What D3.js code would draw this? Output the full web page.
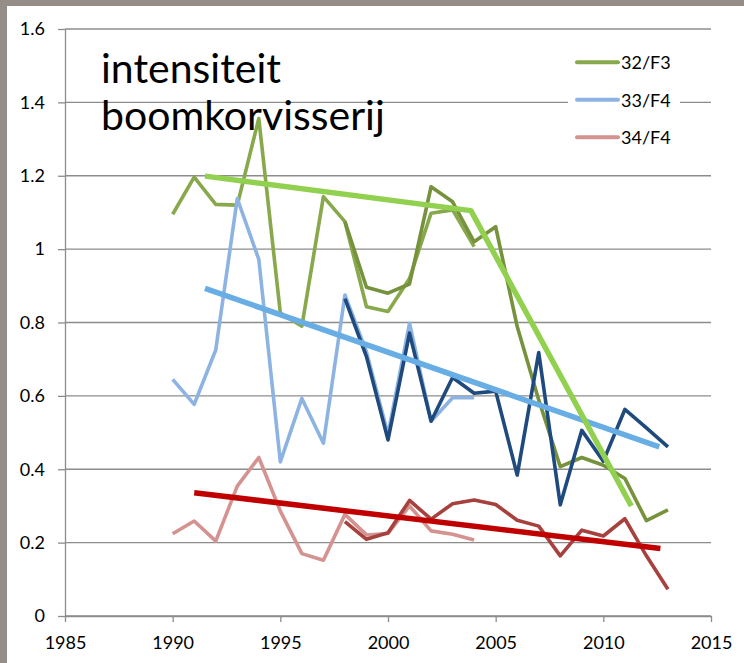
<!DOCTYPE html>
<html>
<head>
<meta charset="utf-8">
<script src="https://cdn.jsdelivr.net/npm/d3@7"></script>
<style>
    body { margin: 0; background: #ffffff; }
    text { font-family: Lato, "Open Sans", sans-serif; fill: #000000; }
</style>
</head>
<body>
<div id="chart-container"></div>
<script>
/*
    intensiteit boomkorvisserij, 1990 - 2013
 */

// data
var years_early = [1990, 1991, 1992, 1993, 1994, 1995, 1996, 1997, 1998, 1999, 2000, 2001, 2002, 2003, 2004];
var years_late = [1998, 1999, 2000, 2001, 2002, 2003, 2004, 2005, 2006, 2007, 2008, 2009, 2010, 2011, 2012, 2013];

var f3_early = [1.095, 1.196, 1.122, 1.120, 1.356, 0.826, 0.790, 1.143, 1.075, 0.843, 0.830, 0.920, 1.098, 1.107, 1.007];
var f4_33_early = [0.645, 0.577, 0.725, 1.138, 0.972, 0.420, 0.593, 0.471, 0.875, 0.720, 0.495, 0.798, 0.531, 0.595, 0.595];
var f4_34_early = [0.224, 0.259, 0.204, 0.354, 0.432, 0.286, 0.170, 0.152, 0.277, 0.221, 0.225, 0.300, 0.232, 0.223, 0.207];

var f3_late = [1.075, 0.896, 0.880, 0.905, 1.170, 1.129, 1.020, 1.061, 0.789, 0.589, 0.407, 0.432, 0.411, 0.375, 0.260, 0.289];
var f4_33_late = [0.865, 0.707, 0.480, 0.771, 0.531, 0.650, 0.607, 0.613, 0.384, 0.718, 0.303, 0.506, 0.422, 0.563, 0.513, 0.461];
var f4_34_late = [0.257, 0.209, 0.227, 0.315, 0.264, 0.306, 0.316, 0.304, 0.261, 0.245, 0.164, 0.234, 0.218, 0.265, 0.164, 0.073];

// trend lines
var trend_f3_x = [1991.5, 2003.85, 2011.3];
var trend_f3_y = [1.199, 1.105, 0.300];
var trend_33_x = [1991.5, 2012.6];
var trend_33_y = [0.893, 0.461];
var trend_34_x = [1991.0, 2012.65];
var trend_34_y = [0.336, 0.184];

var legend_names = ["32/F3", "33/F4", "34/F4"];
var x_ticks = [1985, 1990, 1995, 2000, 2005, 2010, 2015];
var y_ticks = [0, 0.2, 0.4, 0.6, 0.8, 1, 1.2, 1.4, 1.6];

var title_lines = ["intensiteit", "boomkorvisserij"];

var svg_size = {
    'width': 744,
    'height': 663
};

var plot = {
    'left': 65,
    'right': 711,
    'top': 29,
    'bottom': 616
};

var grid_color = "#8c8c8c";

var svg = d3.select("#chart-container")
    .append("svg")
    .attr('width', svg_size.width)
    .attr('height', svg_size.height);

// frame on the left and top
svg.append('rect')
    .attr('x', 0).attr('y', 0)
    .attr('width', svg_size.width).attr('height', 6)
    .style('fill', '#958d88');
svg.append('rect')
    .attr('x', 0).attr('y', 0)
    .attr('width', 7).attr('height', svg_size.height)
    .style('fill', '#958d88');

var x_scale = d3.scaleLinear()
    .domain([1985, 2015])
    .range([plot.left, plot.right]);

var y_scale = d3.scaleLinear()
    .domain([0, 1.6])
    .range([plot.bottom, plot.top]);

// grid
svg.append('g')
    .selectAll('line')
    .data(y_ticks)
    .enter()
    .append('line')
    .attr('x1', plot.left)
    .attr('x2', plot.right)
    .attr('y1', function(d){ return y_scale(d); })
    .attr('y2', function(d){ return y_scale(d); })
    .style('stroke', grid_color)
    .style('stroke-width', 1.3);

// axes
var y_axis = d3.axisLeft(y_scale)
    .tickValues(y_ticks)
    .tickFormat(function(d){ return String(+d.toFixed(1)); })
    .tickSizeInner(7)
    .tickSizeOuter(0)
    .tickPadding(13);

var y_axis_group = svg.append('g')
    .attr('transform', 'translate(' + plot.left + ',0)')
    .call(y_axis);

var x_axis = d3.axisBottom(x_scale)
    .tickValues(x_ticks)
    .tickFormat(d3.format("d"))
    .tickSizeInner(6)
    .tickSizeOuter(0)
    .tickPadding(14);

var x_axis_group = svg.append('g')
    .attr('transform', 'translate(0,' + plot.bottom + ')')
    .call(x_axis);

[y_axis_group, x_axis_group].forEach(function(g){
    g.selectAll('path, line')
        .style('stroke', grid_color)
        .style('stroke-width', 1.3);
    g.selectAll('text')
        .style('font-size', '18px')
        .style('font-family', 'Lato, "Open Sans", sans-serif')
        .style('fill', '#000000');
});

// title
svg.append('text')
    .attr('x', 102)
    .style('font-size', '41px')
    .selectAll('tspan')
    .data(title_lines)
    .enter()
    .append('tspan')
    .attr('x', 101)
    .attr('y', function(d, i){ return 83 + 47*i; })
    .text(function(d){ return d; });

// series
var line_gen = d3.line()
    .x(function(d){ return x_scale(d[0]); })
    .y(function(d){ return y_scale(d[1]); });

function zip(xs, ys){
    return xs.map(function(x, i){ return [x, ys[i]]; });
}

var series = [
    {'xs': years_early, 'ys': f3_early, 'color': '#88a84c', 'width': 3.6},
    {'xs': years_early, 'ys': f4_33_early, 'color': '#8db3e2', 'width': 3.6},
    {'xs': years_early, 'ys': f4_34_early, 'color': '#d49390', 'width': 3.6},
    {'xs': years_late, 'ys': f3_late, 'color': '#76923c', 'width': 3.6},
    {'xs': years_late, 'ys': f4_33_late, 'color': '#1f4a7e', 'width': 3.6},
    {'xs': years_late, 'ys': f4_34_late, 'color': '#a6413e', 'width': 3.6},
    {'xs': trend_33_x, 'ys': trend_33_y, 'color': '#68aee5', 'width': 5.5},
    {'xs': trend_34_x, 'ys': trend_34_y, 'color': '#c00000', 'width': 5.5},
    {'xs': trend_f3_x, 'ys': trend_f3_y, 'color': '#92d050', 'width': 5.5}
];

svg.append('g')
    .selectAll('path')
    .data(series)
    .enter()
    .append('path')
    .attr('d', function(d){ return line_gen(zip(d.xs, d.ys)); })
    .style('fill', 'none')
    .style('stroke', function(d){ return d.color; })
    .style('stroke-width', function(d){ return d.width; })
    .style('stroke-linejoin', 'round');

// legend
var legend_colors = ['#88a84c', '#8db3e2', '#d49390'];

var legend = svg.append('g');

legend.append('rect')
    .attr('x', 568)
    .attr('y', 42)
    .attr('width', 112)
    .attr('height', 112)
    .style('fill', '#ffffff');

var legend_enter = legend.selectAll('.legend-item')
    .data(legend_names)
    .enter()
    .append('g')
    .classed('legend-item', true)
    .attr('transform', function(d, i){
        return 'translate(0,' + (62.3 + 37.5*i) + ')';
    });

legend_enter.append('line')
    .attr('x1', 577)
    .attr('x2', 618)
    .attr('y1', 0)
    .attr('y2', 0)
    .style('stroke', function(d, i){ return legend_colors[i]; })
    .style('stroke-width', 4)
    .style('stroke-linecap', 'round');

legend_enter.append('text')
    .attr('x', 621)
    .attr('y', 0)
    .attr('dominant-baseline', 'central')
    .style('font-size', '18px')
    .text(function(d){ return d; });
</script>
</body>
</html>
